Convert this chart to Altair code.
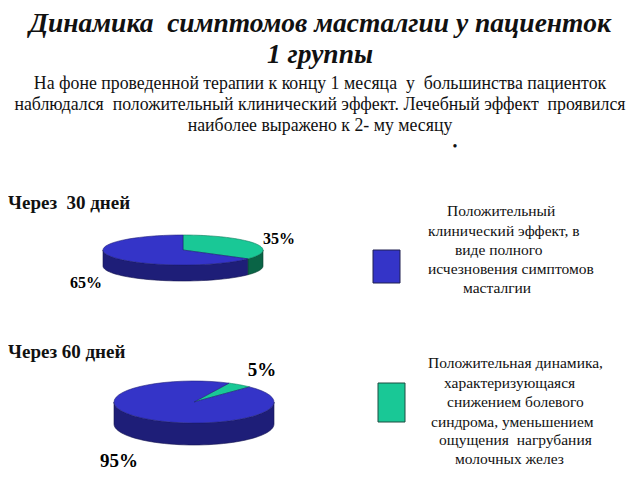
import altair as alt
import pandas as pd

NB = "\u00a0"

# ---------------- data ----------------
PIE_IDS = ["30", "60"]
PIE_TITLES = ["Через" + NB + " 30 дней", "Через 60 дней"]
CATEGORIES = ["partial", "full"]          # drawing order (clockwise from start angle)
VALUES_30 = [35, 65]
VALUES_60 = [5, 95]

TITLE_LINES = ["Динамика" + NB + " симптомов масталгии у пациенток", "1 группы"]
SUBTITLE_LINES = [
    "На фоне проведенной терапии к концу 1 месяца" + NB + " у" + NB + " большинства пациенток",
    "наблюдался" + NB + " положительный клинический эффект. Лечебный эффект" + NB + " проявился",
    "наиболее выражено к 2- му месяцу",
]
LEGEND_FULL = ["Положительный", "клинический эффект, в", "виде полного",
               "исчезновения симптомов", "масталгии"]
LEGEND_PARTIAL = ["Положительная динамика,", "характеризующаяся", "снижением болевого",
                  "синдрома, уменьшением", "ощущения" + NB + " нагрубания", "молочных желез"]

rows = []
for pid, vals in zip(PIE_IDS, [VALUES_30, VALUES_60]):
    for i, (c, v) in enumerate(zip(CATEGORIES, vals)):
        rows.append({"pie": pid, "cat": c, "value": v, "ord": i})
df = pd.DataFrame(rows)

# ---------------- layout / style ----------------
M = 8  # page margin
W, H = 624, 464
FONT = "Liberation Serif, Times New Roman, serif"
GEOM = {
    "30": dict(cx=183, cy=250, rx=80, ry=15, depth=16, start=-90),
    "60": dict(cx=194, cy=402, rx=80, ry=21, depth=22, start=-64),
}
KEYS = ["full", "partial", "full_side", "partial_side"]
FILLS = ["#3434c8", "#19c896", "#1e1e78", "#0a6446"]
STROKES = ["#20207a", "#0d7a5a", "#14144f", "#063d2b"]

xs = alt.Scale(domain=[M, M + W], range=[0, W], nice=False, zero=False)
ys = alt.Scale(domain=[M, M + H], range=[0, H], nice=False, zero=False)
fill_scale = alt.Scale(domain=KEYS, range=FILLS)
stroke_scale = alt.Scale(domain=KEYS, range=STROKES)


def pie_base(pid):
    g = GEOM[pid]
    return (
        alt.Chart(df)
        .transform_filter(alt.datum.pie == pid)
        .transform_joinaggregate(total="sum(value)")
        .transform_window(cum="sum(value)", sort=[alt.SortField("ord")], frame=[None, 0])
        .transform_calculate(a0=f"{g['start']}*PI/180 + 2*PI*(datum.cum - datum.value)/datum.total")
        .transform_calculate(a1=f"{g['start']}*PI/180 + 2*PI*datum.cum/datum.total")
    )


def enc(ch):
    return ch.encode(
        x=alt.X("px:Q", scale=xs, axis=None),
        y=alt.Y("py:Q", scale=ys, axis=None),
        order=alt.Order("idx:Q"),
        detail="cat:N",
        fill=alt.Fill("key:N", scale=fill_scale, legend=None),
        stroke=alt.Stroke("key:N", scale=stroke_scale, legend=None),
    )


def pie_side(pid):
    g = GEOM[pid]
    ch = (
        pie_base(pid)
        .transform_calculate(lo="max(datum.a0, 0)")
        .transform_calculate(hi="min(datum.a1, PI)")
        .transform_filter("datum.hi > datum.lo")
        .transform_calculate(idx="sequence(0, 102)")
        .transform_flatten(["idx"])
        .transform_calculate(t="datum.idx <= 50 ? datum.idx/50 : (101 - datum.idx)/50")
        .transform_calculate(ang="datum.lo + (datum.hi - datum.lo)*datum.t")
        .transform_calculate(px=f"{g['cx']} + {g['rx']}*cos(datum.ang)")
        .transform_calculate(py=f"{g['cy']} + {g['ry']}*sin(datum.ang) + (datum.idx > 50 ? {g['depth']} : 0)")
        .transform_calculate(key="datum.cat + '_side'")
        .mark_line(interpolate="linear-closed", strokeWidth=0.6)
    )
    return enc(ch)


def pie_top(pid):
    g = GEOM[pid]
    ch = (
        pie_base(pid)
        .transform_calculate(idx="sequence(0, 52)")
        .transform_flatten(["idx"])
        .transform_calculate(ang="datum.a0 + (datum.a1 - datum.a0)*(datum.idx - 1)/50")
        .transform_calculate(px=f"datum.idx == 0 ? {g['cx']} : {g['cx']} + {g['rx']}*cos(datum.ang)")
        .transform_calculate(py=f"datum.idx == 0 ? {g['cy']} : {g['cy']} + {g['ry']}*sin(datum.ang)")
        .transform_calculate(key="datum.cat")
        .mark_line(interpolate="linear-closed", strokeWidth=0.6)
    )
    return enc(ch)


def pct_label(pid, cat, x, y, size):
    return (
        alt.Chart(df)
        .transform_filter((alt.datum.pie == pid) & (alt.datum.cat == cat))
        .transform_calculate(label="datum.value + '%'")
        .mark_text(font=FONT, fontSize=size, fontWeight="bold", align="center",
                   baseline="middle", color="#000000")
        .encode(x=alt.value(x - M), y=alt.value(y - M), text="label:N")
    )


def txt(s, x, y, size, weight="normal", style="normal", align="left"):
    return (
        alt.Chart(alt.Data(values=[{}]))
        .mark_text(text=s, font=FONT, fontSize=size, fontWeight=weight, fontStyle=style,
                   align=align, baseline="middle", color="#111111")
        .encode(x=alt.value(x - M), y=alt.value(y - M))
    )


layers = []
for pid in PIE_IDS:
    layers.append(pie_side(pid))
    layers.append(pie_top(pid))

layers += [
    pct_label("30", "partial", 279, 239, 16),
    pct_label("30", "full", 86, 283, 16),
    pct_label("60", "partial", 262, 370, 19),
    pct_label("60", "full", 119, 461, 19),
]

# titles
layers.append(txt(TITLE_LINES[0], 320, 24, 27.5, "bold", "italic", "center"))
layers.append(txt(TITLE_LINES[1], 320, 55, 27.5, "bold", "italic", "center"))
for s, y in zip(SUBTITLE_LINES, [84, 105, 126]):
    layers.append(txt(s, 320, y, 17.8, align="center"))
layers.append(txt("•", 455, 147, 14, align="center"))

layers.append(txt(PIE_TITLES[0], 8, 203, 19, "bold"))
layers.append(txt(PIE_TITLES[1], 8, 352, 19, "bold"))

# legend squares
sq = alt.Chart(alt.Data(values=[{}]))
layers.append(sq.mark_rect(fill=FILLS[0], stroke="#202050", strokeWidth=1).encode(
    x=alt.value(373 - M), x2=alt.value(400 - M), y=alt.value(250 - M), y2=alt.value(283 - M)))
layers.append(sq.mark_rect(fill=FILLS[1], stroke="#1d4d40", strokeWidth=1).encode(
    x=alt.value(378 - M), x2=alt.value(405 - M), y=alt.value(383 - M), y2=alt.value(422 - M)))

for s, (x, y) in zip(LEGEND_FULL, [(447, 211), (428, 231), (455, 250), (428, 269), (463, 288)]):
    layers.append(txt(s, x, y, 15.5))
for s, (x, y) in zip(LEGEND_PARTIAL, [(428, 363), (444, 383), (447, 402), (431, 422), (439, 440), (455, 459)]):
    layers.append(txt(s, x, y, 15.5))

chart = (
    alt.layer(*layers)
    .properties(width=W, height=H, padding=0, autosize="none", background="white")
    .configure_view(stroke=None)
)

chart.save("out.html", embed_options={"renderer": "svg", "actions": False})
